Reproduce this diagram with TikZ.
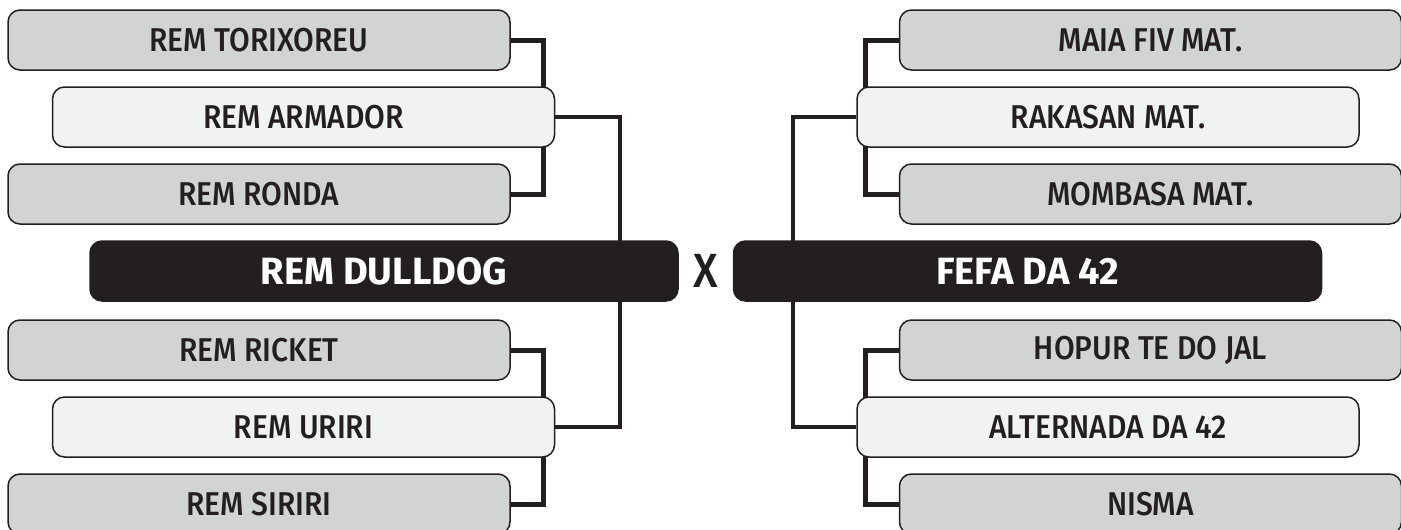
\documentclass[tikz,border=0pt]{standalone}
\usepackage{fontspec}
\setmainfont{Fira Sans}
\newfontfamily\teamfont{Fira Sans}[UprightFont={* Medium}, FakeStretch=0.91]
\newfontfamily\headfont{Fira Sans}[UprightFont={* Bold}]
\usetikzlibrary{calc}
\usetikzlibrary{positioning}
\usetikzlibrary{backgrounds}
\definecolor{ink}{HTML}{231F20}
\definecolor{boxgrey}{HTML}{D1D3D4}
\definecolor{boxlight}{HTML}{F1F2F2}

\begin{document}
\begin{tikzpicture}[x=1pt, y=-1pt, team/.style={rectangle, rounded corners=12pt, draw=ink, line width=1.5pt, fill=boxgrey, text=ink, minimum width=502pt, minimum height=60pt, inner sep=0pt, font=\teamfont\fontsize{33}{36}\selectfont}]
    \tikzset{seed/.style={team, fill=boxlight}}
    \tikzset{final/.style={team, fill=ink, text=white, minimum width=588pt, font=\headfont\fontsize{38}{40}\selectfont}}
    \tikzset{link/.style={draw=ink, line width=5pt}}
    \useasboundingbox (0,0) rectangle (1401,530);
    \def \lx {259} \def \rx {1150.5}

    % left side
    \node[team] (tor) at (\lx,40) {REM TORIXOREU};
    \node[seed] (arm) at (303.5,117) {REM ARMADOR};
    \node[team] (ron) at (\lx,194) {REM RONDA};
    \node[final] (dul) at (384,271) {REM DULLDOG};
    \node[team] (ric) at (\lx,350) {REM RICKET};
    \node[seed] (uri) at (303.5,427) {REM URIRI};
    \node[team] (sir) at (\lx,504) {REM SIRIRI};

    \node[text=ink, font=\teamfont\fontsize{48}{50}\selectfont] (vs) at (706,271) {X};

    % right side
    \node[team] (mai) at (\rx,40) {MAIA FIV MAT.};
    \node[seed] (rak) at (1108,117) {RAKASAN MAT.};
    \node[team] (mom) at (\rx,194) {MOMBASA MAT.};
    \node[final] (fef) at (1027.5,271) {FEFA DA 42};
    \node[team] (hop) at (\rx,350) {HOPUR TE DO JAL};
    \node[seed] (alt) at (1108,427) {ALTERNADA DA 42};
    \node[team] (nis) at (\rx,504) {NISMA};

    \coordinate (ljoin) at (620,271);
    \coordinate (rjoin) at (793,271);

    \begin{scope}[on background layer]
    \draw[link] (tor.east) -- ++(33,0) |- (ron.east);
    \draw[link] (ric.east) -- ++(33,0) |- (sir.east);
    \draw[link, line width=4.5pt] (arm.east) -| (ljoin);
    \draw[link, line width=4.5pt] (uri.east) -| (ljoin);
    \draw[link] (mai.west) -- ++(-33,0) |- (mom.west);
    \draw[link] (hop.west) -- ++(-33,0) |- (nis.west);
    \draw[link, line width=4.5pt] (rak.west) -| (rjoin);
    \draw[link, line width=4.5pt] (alt.west) -| (rjoin);
    \end{scope}
\end{tikzpicture}
\end{document}
